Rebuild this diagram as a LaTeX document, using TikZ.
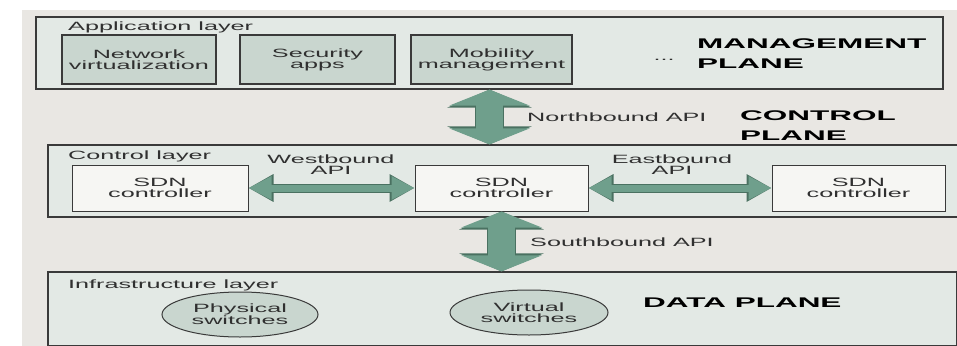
\documentclass[tikz,border=0pt]{standalone}
\usepackage{fontspec}
\setmainfont{Liberation Sans}[FakeStretch=2.1]
\newfontfamily\planefont{Liberation Sans}[FakeStretch=2.25]
\usetikzlibrary{arrows.meta,shapes.geometric}

\definecolor{bggray}{HTML}{E9E7E3}
\definecolor{layerfill}{HTML}{E3E9E5}
\definecolor{appfill}{HTML}{C9D6CF}
\definecolor{ctlfill}{HTML}{F6F6F3}
\definecolor{apifill}{HTML}{6F9F8C}
\definecolor{apiedge}{HTML}{4A7161}
\definecolor{linegray}{HTML}{3A3A3A}
\definecolor{textgray}{HTML}{303030}

\newcommand{\smalltxt}{\fontsize{12}{11}\selectfont}
\newcommand{\planetxt}{\planefont\bfseries\fontsize{14}{20}\selectfont}

\begin{document}
\begin{tikzpicture}[x=1pt,y=-1pt,
  layerbox/.style={draw=linegray,line width=1.2pt,fill=layerfill,
    minimum width=#1,minimum height=72pt,inner sep=0pt},
  appbox/.style={draw=linegray,line width=1.2pt,fill=appfill,
    minimum width=#1,minimum height=49pt,inner sep=0pt,
    align=center,font=\smalltxt,text=textgray},
  ctlbox/.style={draw=linegray,line width=1pt,fill=ctlfill,
    minimum width=#1,minimum height=46pt,inner sep=0pt,
    align=center,font=\smalltxt,text=textgray},
  switchnode/.style={ellipse,draw=linegray,line width=1pt,fill=appfill,
    minimum width=156pt,minimum height=45pt,inner sep=0pt,
    align=center,font=\smalltxt,text=textgray},
  layerlabel/.style={anchor=base west,inner sep=0pt,font=\smalltxt,text=textgray},
  apilabel/.style={inner sep=0pt,align=center,font=\smalltxt,text=textgray},
  planelabel/.style={anchor=north west,inner sep=0pt,align=left,font=\planetxt},
  vapi/.style={line width=27pt,draw=apifill,
    {Triangle[length=16pt,width=80pt]}-{Triangle[length=16pt,width=80pt]},
    preaction={draw=apiedge,line width=29pt,
      {Triangle[length=18pt,width=84pt]}-{Triangle[length=18pt,width=84pt]}}},
  hapi/.style={line width=7pt,draw=apifill,
    {Triangle[length=23pt,width=22pt]}-{Triangle[length=23pt,width=22pt]},
    preaction={draw=apiedge,line width=9pt,
      {Triangle[length=25pt,width=26pt]}-{Triangle[length=25pt,width=26pt]}}}]

\useasboundingbox (0,0) rectangle (957,345);
\fill[bggray] (22,10) rectangle (960,348);

% management plane
\node[layerbox=907] (applayer) at (489.5,53) {};
\node[layerlabel] (applabel) at (68,31) {Application layer};
\node[appbox=154] (netvirt) at (139,59.5) {Network\\virtualization};
\node[appbox=155] (secapps) at (317.5,59.5) {Security\\apps};
\node[appbox=161] (mobmgmt) at (491.5,59.5) {Mobility\\management};
\node[inner sep=0pt,font=\smalltxt,text=textgray] (moreapps) at (664,60) {...};
\node[planelabel] (mgmtplane) at (697,39) {MANAGEMENT\\PLANE};

% control plane
\node[layerbox=911] (ctllayer) at (503.5,181) {};
\node[layerlabel] (ctllabel) at (68,159) {Control layer};
\node[ctlbox=176] (leftctl) at (160,188) {SDN\\controller};
\node[ctlbox=173] (midctl) at (501.5,188) {SDN\\controller};
\node[ctlbox=173] (rightctl) at (858.5,188) {SDN\\controller};
\node[planelabel] (ctlplane) at (740,111) {CONTROL\\PLANE};

% data plane
\node[layerbox=909,minimum height=74pt] (infra) at (502.5,309) {};
\node[layerlabel] (infralabel) at (68,288) {Infrastructure layer};
\node[switchnode] (physsw) at (240,314.5) {Physical\\switches};
\node[switchnode,minimum width=158pt] (virtsw) at (529,312.5) {Virtual\\switches};
\node[planelabel,anchor=base west] (dataplane) at (643,307) {DATA PLANE};

% interfaces
\draw[vapi] (applayer.south) -- (applayer.south |- ctllayer.north);
\node[apilabel,anchor=base west] (northapi) at (527,121) {Northbound API};
\draw[vapi] (midctl.south) -- (midctl.south |- infra.north);
\node[apilabel,anchor=base west] (southapi) at (530,246) {Southbound API};
\draw[hapi] (leftctl.east) -- (midctl.west);
\node[apilabel,anchor=north] (westapi) at (331,155) {Westbound\\API};
\draw[hapi] (midctl.east) -- (rightctl.west);
\node[apilabel,anchor=north] (eastapi) at (672,155) {Eastbound\\API};

\end{tikzpicture}
\end{document}
